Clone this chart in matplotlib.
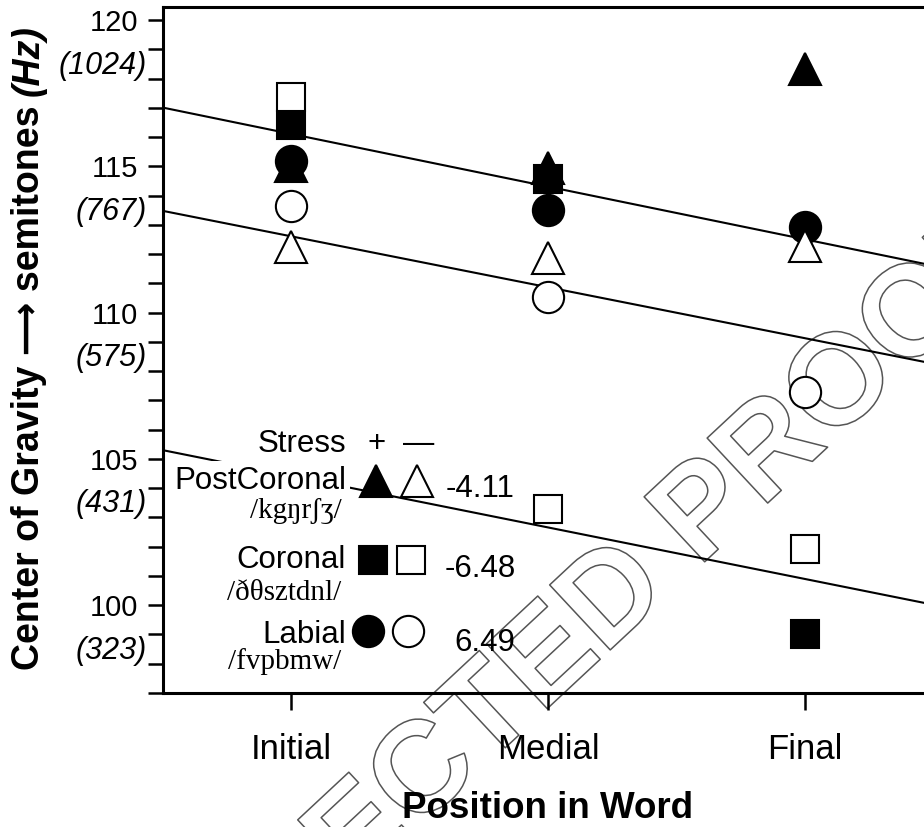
import matplotlib
matplotlib.use('Agg')
import matplotlib.pyplot as plt
import matplotlib.patheffects as pe
import matplotlib.transforms as mtransforms
from matplotlib.ticker import MultipleLocator

# categories on the x axis
positions = ['Initial', 'Medial', 'Final']
x_pos = [1, 2, 3]

# centre of gravity (semitones), + = stressed, - = unstressed
postcor_plus = [115.0, 114.95, 118.32]
postcor_minus = [112.25, 111.87, 112.28]
coronal_plus = [116.4, 114.57, 99.0]
coronal_minus = [117.37, 103.29, 101.92]
labial_plus = [115.19, 113.52, 112.94]
labial_minus = [113.66, 110.54, 107.28]

# regression lines: value at "Initial" and slope per position step
fit_start = [116.11, 112.61, 104.42]
fit_slope = [-1.80, -1.74, -1.76]

semitone_ticks = [100, 105, 110, 115, 120]
hz_labels = ['(323)', '(431)', '(575)', '(767)', '(1024)']

classes = ['PostCoronal', 'Coronal', 'Labial']
class_phones = ['/kgŋrʃʒ/', '/ðθsztdnl/', '/fvpbmw/']
class_slopes = ['-4.11', '-6.48', '6.49']
class_markers = ['^', 's', 'o']

plt.rcParams['font.family'] = ['Liberation Sans', 'DejaVu Sans']
serif = ['Liberation Serif', 'DejaVu Serif']

W, H = 924, 827
fig = plt.figure(figsize=(W / 100, H / 100), dpi=100)
fig.patch.set_facecolor('white')
ax = fig.add_axes([163 / W, 1 - 693 / H, 1 - 163 / W, (693 - 7) / H])
ax.patch.set_alpha(0)
ax.set_xlim(0.5, 3.465)
ax.set_ylim(97, 120.45)

msize = {'^': 22.5, 's': 19.5, 'o': 22.5}

# fitted lines
for y0, s in zip(fit_start, fit_slope):
    ax.axline((1, y0), slope=s, color='black', lw=1.5, zorder=2)

# data points (filled first, open on top)
series = [(postcor_plus, '^', 'black'), (coronal_plus, 's', 'black'),
          (labial_plus, 'o', 'black'), (postcor_minus, '^', 'white'),
          (coronal_minus, 's', 'white'), (labial_minus, 'o', 'white')]
for vals, m, fc in series:
    ax.plot(x_pos, vals, linestyle='none', marker=m, ms=msize[m], mfc=fc,
            mec='black', mew=1.5, zorder=4)

# hand made legend inside the plot
ax.text(1.213, 105.24, 'Stress', ha='right', va='baseline', fontsize=22.5)
ax.text(1.334, 105.24, '+', ha='center', va='baseline', fontsize=22.5)
ax.text(1.496, 105.24, '—', ha='center', va='baseline', fontsize=22.5)
name_y = [103.99, 101.26, 98.70]
phone_y = [102.97, 100.18, 97.83]
mark_y = [104.24, 101.55, 99.11]
plus_x = [1.33, 1.32, 1.30]
minus_x = [1.49, 1.465, 1.455]
slope_x = [1.603, 1.597, 1.634]
slope_y = [103.71, 100.98, 98.44]
for i in range(3):
    ax.text(1.213, name_y[i], classes[i], ha='right', va='baseline', fontsize=22.5,
            zorder=3, bbox=dict(facecolor='white', edgecolor='none', pad=3))
    ax.text(1.195, phone_y[i], class_phones[i], ha='right', va='baseline',
            fontsize=21, family=serif, zorder=3)
    m = class_markers[i]
    ax.plot(plus_x[i], mark_y[i], marker=m, ms=msize[m], mfc='black', mec='black',
            mew=1.5, zorder=5)
    ax.plot(minus_x[i], mark_y[i], marker=m, ms=msize[m], mfc='white', mec='black',
            mew=1.5, zorder=5)
    ax.text(slope_x[i], slope_y[i], class_slopes[i], ha='left', va='baseline',
            fontsize=22.5, zorder=3)

# axes styling
for side in ['left', 'bottom', 'top']:
    ax.spines[side].set_linewidth(2.2)
ax.spines['right'].set_visible(False)
ax.set_yticks(semitone_ticks)
ax.yaxis.set_minor_locator(MultipleLocator(1))
ax.tick_params(axis='y', which='both', direction='out', length=11, width=1.8,
               labelsize=21, pad=7)
ax.set_xticks(x_pos)
ax.set_xticklabels(positions)
ax.tick_params(axis='x', direction='out', length=12, width=1.8, labelsize=25, pad=17)

ytrans = ax.get_yaxis_transform()
for t, lbl in zip(semitone_ticks, hz_labels):
    ax.annotate(lbl, xy=(0, t - 1.55), xycoords=ytrans, xytext=(-11.5, 0),
                textcoords='offset points', ha='right', va='center',
                fontsize=22, style='italic', annotation_clip=False)

xtrans = mtransforms.blended_transform_factory(ax.transData, ax.transAxes)
ax.text(2, -0.182, 'Position in Word', transform=xtrans, ha='center', va='baseline',
        fontsize=26.5, fontweight='bold')

# y label in two pieces so "(Hz)" can be italic
fig.canvas.draw()
r = fig.canvas.get_renderer()
t1 = fig.text(29 / W, 1 - 670 / H, 'Center of Gravity ⟶ semitones', rotation=90,
              ha='center', va='bottom', fontsize=27, fontweight='bold')
bb = t1.get_window_extent(r)
fig.text(29 / W, (bb.y1 + 9) / H, '(Hz)', rotation=90, ha='center', va='bottom',
         fontsize=27, fontweight='bold', style='italic')

# proof watermark, outline only, behind the axes
fig.text(531 / W, 1 - 678 / H, 'CORRECTED PROOF', rotation=43, rotation_mode='anchor',
         ha='center', va='center', fontsize=93, fontweight='bold', color='white',
         zorder=-5, path_effects=[pe.Stroke(linewidth=1.1, foreground='#555555')])

fig.savefig('out.png', dpi=100, facecolor='white')
